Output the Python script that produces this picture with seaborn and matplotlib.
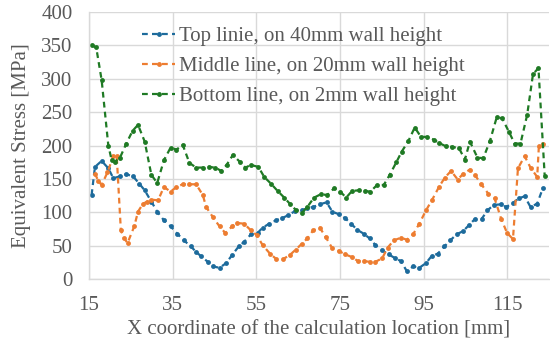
import matplotlib
matplotlib.use("Agg")
import matplotlib.pyplot as plt
import pandas as pd
import seaborn as sns

# Top line (40 mm wall height)
top_x = [15.6, 16.4, 18.0, 19.6, 20.8, 22.4, 23.9, 25.5, 27.0, 28.3, 29.9, 31.3, 32.9, 34.5,
         36.1, 37.7, 39.3, 40.6, 41.8, 43.4, 44.6, 46.2, 47.8, 49.2, 50.8, 52.1, 53.7, 55.3,
         56.5, 58.1, 59.7, 61.1, 62.7, 64.3, 65.9, 67.2, 68.6, 70.2, 71.8, 73.2, 74.8, 76.3,
         77.7, 79.1, 80.7, 82.1, 83.5, 85.1, 86.7, 88.3, 89.6, 91.0, 92.5, 94.0, 95.6, 97.0,
         98.4, 100.0, 101.4, 102.9, 104.5, 105.9, 107.3, 108.9, 110.3, 111.8, 113.5, 114.8,
         116.4, 117.8, 119.2, 120.6, 122.2, 123.6]
top_y = [126, 168, 177, 166, 151, 154, 157, 154, 143, 133, 116, 101, 88, 79,
         68, 58, 49, 41, 34, 26, 19, 17, 24, 36, 49, 56, 67, 69,
         77, 83, 88, 91, 96, 102, 103, 106, 108, 112, 115, 101, 97, 91,
         83, 74, 68, 61, 51, 43, 37, 31, 27, 12, 19, 17, 24, 35,
         38, 49, 58, 67, 72, 81, 90, 90, 103, 111, 112, 108,
         114, 121, 124, 108, 113, 137]

# Middle line (20 mm wall height)
mid_x = [16.4, 17.2, 18.0, 19.4, 20.8, 21.6, 22.6, 23.4, 24.2, 25.8, 26.7, 27.9, 28.9, 29.9,
         31.5, 32.9, 34.5, 35.9, 37.4, 39.0, 40.6, 42.2, 43.0, 44.6, 46.2, 47.6, 49.2, 50.5,
         52.1, 53.7, 55.1, 56.5, 58.3, 59.8, 61.4, 63.0, 64.4, 65.9, 67.2, 68.6, 70.2, 71.6,
         73.2, 74.8, 76.3, 77.9, 79.3, 80.7, 82.1, 83.5, 85.1, 86.4, 87.9, 89.6, 91.0, 92.5,
         94.0, 95.6, 97.0, 98.7, 100.1, 101.6, 103.2, 104.5, 106.1, 107.3, 108.7, 110.5,
         112.0, 113.6, 115.0, 116.4, 117.6, 119.2, 120.6, 122.2, 122.6, 123.6]
mid_y = [158, 147, 141, 160, 184, 185, 73, 61, 54, 79, 101, 113, 116, 119,
         118, 138, 131, 138, 142, 142, 142, 126, 108, 93, 79, 69, 79, 84,
         83, 73, 66, 51, 38, 30, 30, 36, 44, 53, 61, 73, 77, 63,
         46, 42, 37, 33, 27, 27, 26, 26, 31, 47, 58, 62, 59, 67,
         83, 103, 118, 138, 152, 162, 149, 158, 164, 156, 143, 128,
         121, 90, 69, 60, 166, 184, 167, 153, 199, 203]

# Bottom line (2 mm wall height)
bot_x = [15.6, 16.7, 18.0, 19.6, 20.4, 21.2, 22.4, 23.9, 25.4, 26.7, 28.3, 29.9, 31.3, 32.9,
         34.5, 35.9, 37.4, 39.0, 40.6, 42.2, 43.6, 45.2, 46.6, 47.9, 49.4, 51.0, 52.4, 53.7,
         55.5, 56.9, 58.5, 60.1, 61.7, 63.0, 64.4, 65.9, 67.2, 68.8, 70.4, 72.0, 73.6, 75.1,
         76.5, 77.9, 79.5, 80.9, 82.3, 83.9, 85.5, 86.9, 88.5, 89.8, 91.4, 92.9, 94.4, 95.8,
         97.4, 98.7, 100.3, 101.9, 103.5, 104.9, 106.1, 107.9, 109.3, 110.9, 112.5, 113.8,
         115.4, 116.8, 118.2, 119.8, 121.2, 122.5, 124.0]
bot_y = [350, 347, 298, 200, 178, 176, 182, 203, 222, 231, 206, 156, 144, 178,
         197, 194, 201, 174, 167, 167, 168, 167, 162, 171, 186, 176, 167, 171,
         168, 153, 143, 132, 122, 113, 104, 99, 108, 122, 127, 126, 136, 131,
         122, 132, 133, 132, 131, 141, 141, 156, 175, 191, 207, 227, 213, 213,
         209, 204, 199, 198, 196, 179, 206, 182, 181, 207, 242, 241,
         221, 203, 203, 246, 307, 316, 154]

labels = ["Top linie, on 40mm wall height",
          "Middle line, on 20mm wall height",
          "Bottom line, on 2mm wall height"]
colors = ["#1d6b9c", "#ed7d31", "#1f7a24"]

sns.set_style("white")
plt.rcParams["font.family"] = ["Liberation Serif", "DejaVu Serif"]
txt = "#595959"
fs = 15

fig = plt.figure(figsize=(5.5, 3.52), dpi=100)
ax = fig.add_axes([0.162, 0.207, 0.836, 0.759])

for xs, ys, lab, col in zip([top_x, mid_x, bot_x], [top_y, mid_y, bot_y], labels, colors):
    df = pd.DataFrame({"x": xs, "y": ys})
    sns.lineplot(data=df, x="x", y="y", ax=ax, color=col, label=lab,
                 linewidth=1.6, marker="o", markersize=3.5, markeredgewidth=0, sort=False)
    ax.lines[-1].set_linestyle((0, (2.6, 1.9)))

ax.set_xlim(15, 125)
ax.set_ylim(0, 400)
ax.set_xticks(range(15, 125, 20))
ax.set_yticks(range(0, 401, 50))
ax.grid(True, color="#d9d9d9", linewidth=1)
for s in ["top", "right"]:
    ax.spines[s].set_visible(False)
for s in ["left", "bottom"]:
    ax.spines[s].set_color("#d9d9d9")
    ax.spines[s].set_linewidth(1)
ax.tick_params(axis="both", length=0, labelsize=fs, labelcolor=txt)
ax.tick_params(axis="x", pad=12)
ax.tick_params(axis="y", pad=12)
ax.set_xlabel("X coordinate of the calculation location [mm]", fontsize=fs, color=txt, labelpad=4)
ax.set_ylabel("Equivalent Stress [MPa]", fontsize=fs, color=txt, labelpad=7)

leg = ax.legend(loc="upper left", bbox_to_anchor=(0.115, 0.945), frameon=False, fontsize=fs,
                handlelength=1.6, handletextpad=0.2, labelspacing=0.5, borderpad=0,
                borderaxespad=0, numpoints=1)
for t in leg.get_texts():
    t.set_color(txt)
for h in leg.legend_handles:
    h.set_linestyle((0, (2.6, 1.9)))

fig.savefig("out.png", dpi=100)
